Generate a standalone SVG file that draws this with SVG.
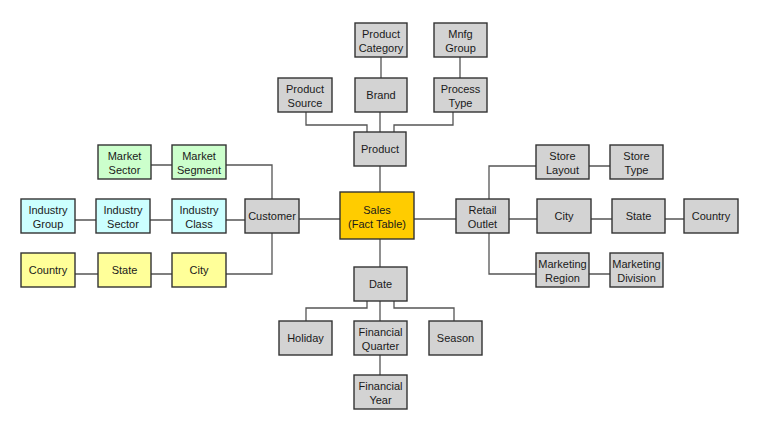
<svg xmlns="http://www.w3.org/2000/svg" width="762" height="427" viewBox="0 0 762 427">
<style>
rect{stroke:#333;stroke-width:1.4}
.g{fill:#d3d3d3}.gr{fill:#ccffcc}.c{fill:#ccffff}.y{fill:#ffff99}.o{fill:#ffcc00}
text{font-family:"Liberation Sans",Arial,sans-serif;font-size:11px;fill:#1a1a1a;text-anchor:middle}
#connectors path{fill:none;stroke:#555;stroke-width:1.3}
</style>
<rect width="762" height="427" fill="#fff" style="stroke:none"/>
<g id="connectors">
<path d="M381 57V78M460 57V78M380 112V132M306 112V125H367V132M453 112V125H394V132M380 166V192M380 239V267M299 219H340M414 219H456"/>
<path d="M151 165H172M226 165H272V199M75 220H96M150 220H172M226 220H245M75 274H98M151 274H172M226 274H272V233"/>
<path d="M489 199V166H536M489 233V274H536M589 166H610M509 219H537M591 219H612M665 219H684M589 274H610"/>
<path d="M367 301V308H306V321M380 301V321M394 301V308H454V321M380 355V375"/>
</g>
<g id="product-category"><rect class="g" x="355" y="23" width="52" height="34"/><text x="381" y="38">Product</text><text x="381" y="52">Category</text></g>
<g id="mnfg-group"><rect class="g" x="434" y="23" width="53" height="34"/><text x="460.5" y="38">Mnfg</text><text x="460.5" y="52">Group</text></g>
<g id="product-source"><rect class="g" x="278" y="78" width="54" height="34"/><text x="305" y="93">Product</text><text x="305" y="107">Source</text></g>
<g id="brand"><rect class="g" x="355" y="78" width="52" height="34"/><text x="381" y="99">Brand</text></g>
<g id="process-type"><rect class="g" x="434" y="78" width="53" height="34"/><text x="460.5" y="93">Process</text><text x="460.5" y="107">Type</text></g>
<g id="product"><rect class="g" x="354" y="132" width="52" height="34"/><text x="380" y="153">Product</text></g>
<g id="sales"><rect class="o" x="340" y="192" width="74" height="47"/><text x="377" y="214">Sales</text><text x="377" y="228">(Fact Table)</text></g>
<g id="customer"><rect class="g" x="245" y="199" width="54" height="34"/><text x="272" y="220">Customer</text></g>
<g id="retail-outlet"><rect class="g" x="456" y="199" width="53" height="34"/><text x="482.5" y="214">Retail</text><text x="482.5" y="228">Outlet</text></g>
<g id="market-sector"><rect class="gr" x="98" y="145" width="53" height="34"/><text x="124.5" y="160">Market</text><text x="124.5" y="174">Sector</text></g>
<g id="market-segment"><rect class="gr" x="172" y="145" width="54" height="34"/><text x="199" y="160">Market</text><text x="199" y="174">Segment</text></g>
<g id="industry-group"><rect class="c" x="21" y="199" width="54" height="34"/><text x="48" y="214">Industry</text><text x="48" y="228">Group</text></g>
<g id="industry-sector"><rect class="c" x="96" y="199" width="54" height="34"/><text x="123" y="214">Industry</text><text x="123" y="228">Sector</text></g>
<g id="industry-class"><rect class="c" x="172" y="199" width="54" height="34"/><text x="199" y="214">Industry</text><text x="199" y="228">Class</text></g>
<g id="cust-country"><rect class="y" x="21" y="253" width="54" height="34"/><text x="48" y="274">Country</text></g>
<g id="cust-state"><rect class="y" x="98" y="253" width="53" height="34"/><text x="124.5" y="274">State</text></g>
<g id="cust-city"><rect class="y" x="172" y="253" width="54" height="34"/><text x="199" y="274">City</text></g>
<g id="store-layout"><rect class="g" x="536" y="145" width="53" height="34"/><text x="562.5" y="160">Store</text><text x="562.5" y="174">Layout</text></g>
<g id="store-type"><rect class="g" x="610" y="145" width="53" height="34"/><text x="636.5" y="160">Store</text><text x="636.5" y="174">Type</text></g>
<g id="ret-city"><rect class="g" x="537" y="199" width="54" height="34"/><text x="564" y="220">City</text></g>
<g id="ret-state"><rect class="g" x="612" y="199" width="53" height="34"/><text x="638.5" y="220">State</text></g>
<g id="ret-country"><rect class="g" x="684" y="199" width="54" height="34"/><text x="711" y="220">Country</text></g>
<g id="marketing-region"><rect class="g" x="536" y="253" width="53" height="34"/><text x="562.5" y="268">Marketing</text><text x="562.5" y="282">Region</text></g>
<g id="marketing-division"><rect class="g" x="610" y="253" width="53" height="34"/><text x="636.5" y="268">Marketing</text><text x="636.5" y="282">Division</text></g>
<g id="date"><rect class="g" x="354" y="267" width="53" height="34"/><text x="380.5" y="288">Date</text></g>
<g id="holiday"><rect class="g" x="279" y="321" width="53" height="34"/><text x="305.5" y="342">Holiday</text></g>
<g id="financial-quarter"><rect class="g" x="354" y="321" width="53" height="34"/><text x="380.5" y="336">Financial</text><text x="380.5" y="350">Quarter</text></g>
<g id="season"><rect class="g" x="429" y="321" width="53" height="34"/><text x="455.5" y="342">Season</text></g>
<g id="financial-year"><rect class="g" x="354" y="375" width="53" height="34"/><text x="380.5" y="390">Financial</text><text x="380.5" y="404">Year</text></g>
</svg>
